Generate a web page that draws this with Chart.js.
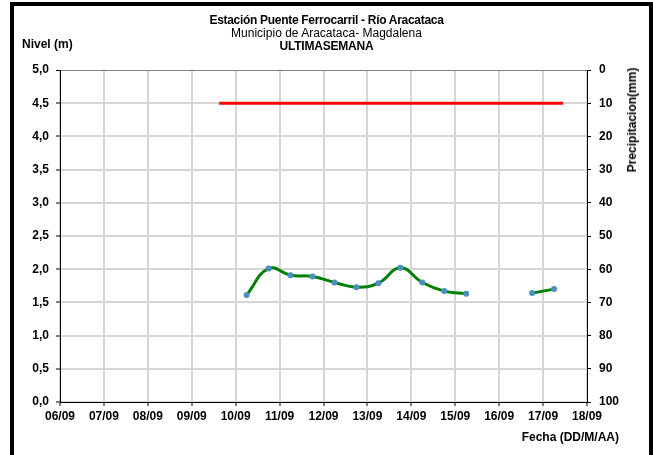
<!DOCTYPE html>
<html>
<head>
<meta charset="utf-8">
<script src="https://cdn.jsdelivr.net/npm/chart.js@4"></script>
<style>
  body {margin: 0; background: #fff; width: 653px; height: 455px; overflow: hidden; position: relative;
        font-family: 'Liberation Sans', Arial, sans-serif; color: #000;}
  #wrap {position: absolute; left: 0; top: 0; width: 653px; height: 455px;}
  #frame {position: absolute; left: 10px; top: 2px; width: 643px; height: 480px; box-sizing: border-box;
          border: 4px solid #000; pointer-events: none;}
  .txt {position: absolute; white-space: nowrap; line-height: 1;}
  #t1 {left: 0; width: 653px; text-align: center; top: 14px; font-size: 12px; font-weight: bold; letter-spacing: -0.3px;}
  #t2 {left: 0; width: 653px; text-align: center; top: 27px; font-size: 12px;}
  #t3 {left: 0; width: 653px; text-align: center; top: 40px; font-size: 12px; font-weight: bold; letter-spacing: -0.2px;}
  #yl {left: 22px; top: 38px; font-size: 12px; font-weight: bold;}
  #yr {left: 632px; top: 120px; font-size: 12px; font-weight: bold; transform: translate(-50%, -50%) rotate(-90deg);}
  #xl {right: 34px; top: 431px; font-size: 12px; font-weight: bold;}
</style>
</head>
<body>
<div id="wrap"><canvas id="byLevel" width="653" height="455"></canvas></div>
<div class="txt" id="t1">Estación Puente Ferrocarril - Río Aracataca</div>
<div class="txt" id="t2">Municipio de Aracataca- Magdalena</div>
<div class="txt" id="t3">ULTIMASEMANA</div>
<div class="txt" id="yl">Nivel (m)</div>
<div class="txt" id="yr">Precipitacion(mm)</div>
<div class="txt" id="xl">Fecha (DD/M/AA)</div>
<div id="frame"></div>
<script>
const dayLabels = ['06/09','07/09','08/09','09/09','10/09','11/09','12/09','13/09','14/09','15/09','16/09','17/09','18/09']
const nivelFecha = ['10/09 06:00','10/09 18:00','11/09 06:00','11/09 18:00','12/09 06:00','12/09 18:00','13/09 06:00',
  '13/09 18:00','14/09 06:00','14/09 18:00','15/09 06:00','15/09 18:00','16/09 06:00','16/09 18:00','17/09 06:00']
const nivelValor = [1.61, 2.01, 1.91, 1.89, 1.80, 1.73, 1.79, 2.02, 1.80, 1.67, 1.63, null, null, 1.64, 1.70]
const alertaFecha = ['09/09 15:00','17/09 11:00']
const alertaValor = [4.5, 4.5]

const firstDay = 6
function toDays(s) {
  const [d, t] = s.split(' ')
  const [hh, mm] = t.split(':').map(Number)
  return parseInt(d.split('/')[0]) - firstDay + (hh + mm / 60) / 24
}
const nivelData = nivelFecha.map((f, i) => ({x: toDays(f), y: nivelValor[i]}))
const alertaData = alertaFecha.map((f, i) => ({x: toDays(f), y: alertaValor[i]}))

const tickFont = {family: 'Liberation Sans', size: 12, weight: 'bold'}
const gridGray = '#d6d6d6'

new Chart(document.getElementById('byLevel'), {
  type: 'line',
  data: {
    datasets: [
      {data: alertaData, borderColor: '#ff0000', borderWidth: 3, pointRadius: 0, yAxisID: 'y'},
      {data: nivelData, borderColor: '#008000', borderWidth: 3, tension: 0.45, spanGaps: false,
       pointRadius: 3, pointBackgroundColor: '#4a8fc4', pointBorderWidth: 0, yAxisID: 'y'},
    ],
  },
  options: {
    responsive: false,
    animation: false,
    devicePixelRatio: 1,
    layout: {padding: {left: 0, top: 70, right: 26, bottom: 23}},
    plugins: {legend: {display: false}, tooltip: {enabled: false}},
    scales: {
      x: {
        type: 'linear', min: 0, max: 12,
        afterFit: s => { s.height = 30 },
        ticks: {stepSize: 1, font: tickFont, color: '#000', padding: 3, maxRotation: 0, autoSkip: false,
                callback: v => dayLabels[v]},
        grid: {color: gridGray, lineWidth: 2, tickColor: '#000', tickWidth: 1, tickLength: 4},
        border: {color: '#000', width: 1},
      },
      y: {
        position: 'left', min: 0, max: 5,
        afterFit: s => { s.width = 60 },
        ticks: {stepSize: 0.5, font: tickFont, color: '#000', padding: 7,
                callback: v => v.toFixed(1).replace('.', ',')},
        grid: {color: c => c.tick && c.tick.value === 5 ? '#808080' : gridGray,
               lineWidth: c => c.tick && c.tick.value === 5 ? 1 : 2, tickColor: '#000', tickWidth: 1, tickLength: 4},
        border: {color: '#000', width: 1},
      },
      y1: {
        position: 'right', min: 0, max: 100, reverse: true,
        afterFit: s => { s.width = 40 },
        ticks: {stepSize: 10, font: tickFont, color: '#000', padding: 8},
        grid: {drawOnChartArea: false, tickColor: '#000', tickLength: 4},
        border: {color: '#000', width: 1},
      },
    },
  },
})
</script>
</body>
</html>
